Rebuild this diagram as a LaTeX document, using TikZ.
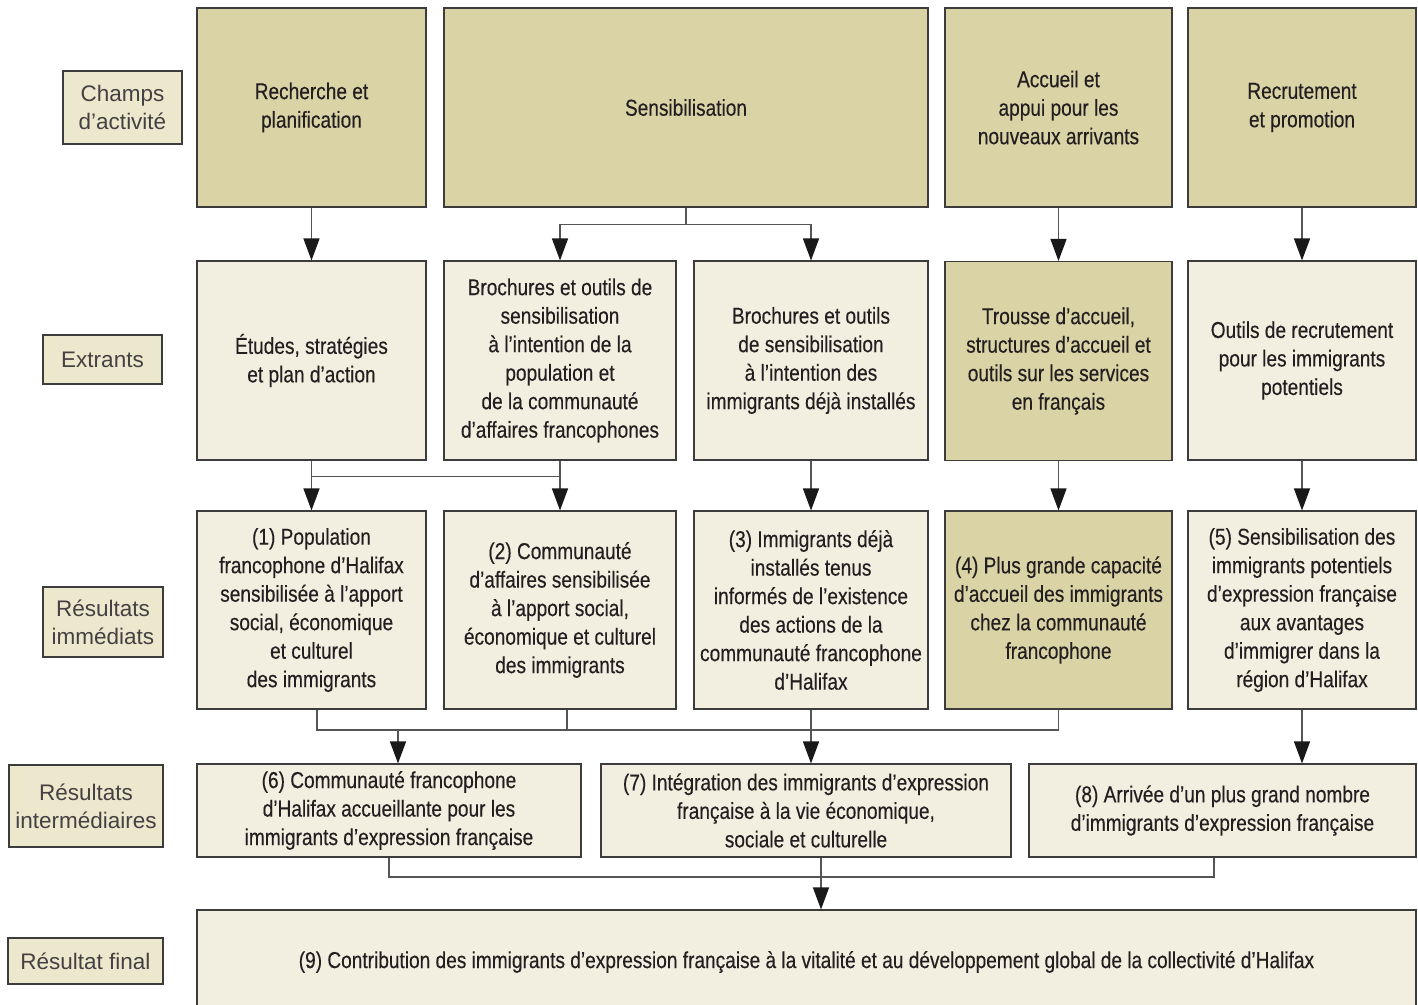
\documentclass[tikz,border=0pt]{standalone}
\usepackage{fontspec}
\setmainfont{Liberation Sans}
\newfontfamily\condfont{Liberation Sans}[FakeStretch=0.83,FakeBold=0.3]
\usetikzlibrary{arrows.meta,calc}
\definecolor{darkfill}{RGB}{217,211,165}
\definecolor{lightfill}{RGB}{242,239,224}
\definecolor{tagfill}{RGB}{236,232,205}
\definecolor{edge}{RGB}{60,60,60}
\definecolor{wire}{RGB}{85,85,85}
\definecolor{ink}{RGB}{35,31,32}

\begin{document}
\begin{tikzpicture}[x=1pt,y=-1pt,
  cell/.style={draw=edge, line width=1.1pt, inner sep=0pt, align=center, text=ink,
    font=\condfont\fontsize{23}{28.5}\selectfont},
  dark/.style={cell, fill=darkfill},
  light/.style={cell, fill=lightfill},
  tag/.style={draw=edge, line width=1.1pt, fill=tagfill, inner sep=0pt, align=center,
    text=ink!85, font=\fontsize{22.5}{28}\selectfont},
  wirepath/.style={draw=wire, line width=1.3pt},
  arr/.style={wirepath, -{Triangle[length=22pt,width=16pt,color=black!90]}}]

\fill[white] (0,0) rectangle (1418,1004);
\useasboundingbox (0,0) rectangle (1418,1004);

% row labels
\node[tag, minimum width=119pt, minimum height=73pt] (L1) at (122.5,107.5) {Champs\\d’activité};
\node[tag, minimum width=119pt, minimum height=49pt] (L2) at (102.5,359.5) {Extrants};
\node[tag, minimum width=120pt, minimum height=70pt] (L3) at (103,622) {Résultats\\immédiats};
\node[tag, minimum width=154pt, minimum height=82pt] (L4) at (86,806) {Résultats\\intermédiaires};
\node[tag, minimum width=155pt, minimum height=46pt] (L5) at (85.5,961) {Résultat final};

% fields of activity
\node[dark, minimum width=229pt, minimum height=199pt] (A1) at (311.5,107.5) {Recherche et\\planification};
\node[dark, minimum width=484pt, minimum height=199pt] (A2) at (686,107.5) {Sensibilisation};
\node[dark, minimum width=227pt, minimum height=199pt] (A3) at (1058.5,107.5) {Accueil et\\appui pour les\\nouveaux arrivants};
\node[dark, minimum width=228pt, minimum height=199pt] (A4) at (1302,107.5) {Recrutement\\et promotion};

% outputs
\node[light, minimum width=229pt, minimum height=199pt] (B1) at (311.5,360.5) {Études, stratégies\\et plan d’action};
\node[light, minimum width=232pt, minimum height=199pt] (B2) at (560,360.5) {Brochures et outils de\\sensibilisation\\à l’intention de la\\population et\\de la communauté\\d’affaires francophones};
\node[light, minimum width=234pt, minimum height=199pt] (B3) at (811,360.5) {Brochures et outils\\de sensibilisation\\à l’intention des\\immigrants déjà installés};
\node[dark, minimum width=227pt, minimum height=199pt] (B4) at (1058.5,361) {Trousse d’accueil,\\structures d’accueil et\\outils sur les services\\en français};
\node[light, minimum width=228pt, minimum height=199pt] (B5) at (1302,360.5) {Outils de recrutement\\pour les immigrants\\potentiels};

% immediate results
\node[light, minimum width=229pt, minimum height=198pt] (C1) at (311.5,610) {(1) Population\\francophone d’Halifax\\sensibilisée à l’apport\\social, économique\\et culturel\\des immigrants};
\node[light, minimum width=232pt, minimum height=198pt] (C2) at (560,610) {(2) Communauté\\d’affaires sensibilisée\\à l’apport social,\\économique et culturel\\des immigrants};
\node[light, minimum width=234pt, minimum height=198pt] (C3) at (811,610) {(3) Immigrants déjà\\installés tenus\\informés de l’existence\\des actions de la\\communauté francophone\\d’Halifax};
\node[dark, minimum width=227pt, minimum height=198pt] (C4) at (1058.5,610) {(4) Plus grande capacité\\d’accueil des immigrants\\chez la communauté\\francophone};
\node[light, minimum width=228pt, minimum height=198pt] (C5) at (1302,610) {(5) Sensibilisation des\\immigrants potentiels\\d’expression française\\aux avantages\\d’immigrer dans la\\région d’Halifax};

% intermediate results
\node[light, minimum width=384pt, minimum height=93pt] (D6) at (389,810.5) {(6) Communauté francophone\\d’Halifax accueillante pour les\\immigrants d’expression française};
\node[light, minimum width=410pt, minimum height=93pt] (D7) at (806,810.5) {(7) Intégration des immigrants d’expression\\française à la vie économique,\\sociale et culturelle};
\node[light, minimum width=387pt, minimum height=93pt] (D8) at (1222.5,810.5) {(8) Arrivée d’un plus grand nombre\\d’immigrants d’expression française};

% final result (its lower edge runs past the page)
\node[light, minimum width=1219pt, minimum height=104pt] (E9) at (806.5,962) {(9) Contribution des immigrants d’expression française à la vitalité et au développement global de la collectivité d’Halifax};

% connectors: activities to outputs
\draw[arr] (A1.south) -- (B1.north);
\draw[arr] (A2.south) -- ++(0,17) -| (B2.north);
\draw[arr] (A2.south) ++(0,17) -| (B3.north);
\draw[arr] (A3.south) -- (B4.north);
\draw[arr] (A4.south) -- (B5.north);

% outputs to immediate results
\draw[wirepath] ($(B1.south)+(0,16)$) -- ($(B2.south)+(0,16)$);
\draw[arr] (B1.south) -- (C1.north);
\draw[arr] (B2.south) -- (C2.north);
\draw[arr] (B3.south) -- (C3.north);
\draw[arr] (B4.south) -- (C4.north);
\draw[arr] (B5.south) -- (C5.north);

% immediate to intermediate results
\coordinate (j3) at (0,730);
\draw[wirepath] ([xshift=5.5pt]C1.south) |- (C4.south |- j3) -- (C4.south);
\draw[wirepath] ([xshift=7pt]C2.south) -- ([xshift=7pt]C2.south |- j3);
\draw[arr] ([xshift=9pt]D6.north |- j3) -- ([xshift=9pt]D6.north);
\draw[arr] (C3.south) -- (C3.south |- D7.north);
\draw[arr] (C5.south) -- (C5.south |- D8.north);

% intermediate to final result
\coordinate (j4) at (0,877);
\draw[wirepath] (D6.south) |- ([xshift=-8.5pt]D8.south |- j4) -- ([xshift=-8.5pt]D8.south);
\draw[arr] ([xshift=15pt]D7.south) -- ([xshift=15pt]D7.south |- E9.north);

\end{tikzpicture}
\end{document}
